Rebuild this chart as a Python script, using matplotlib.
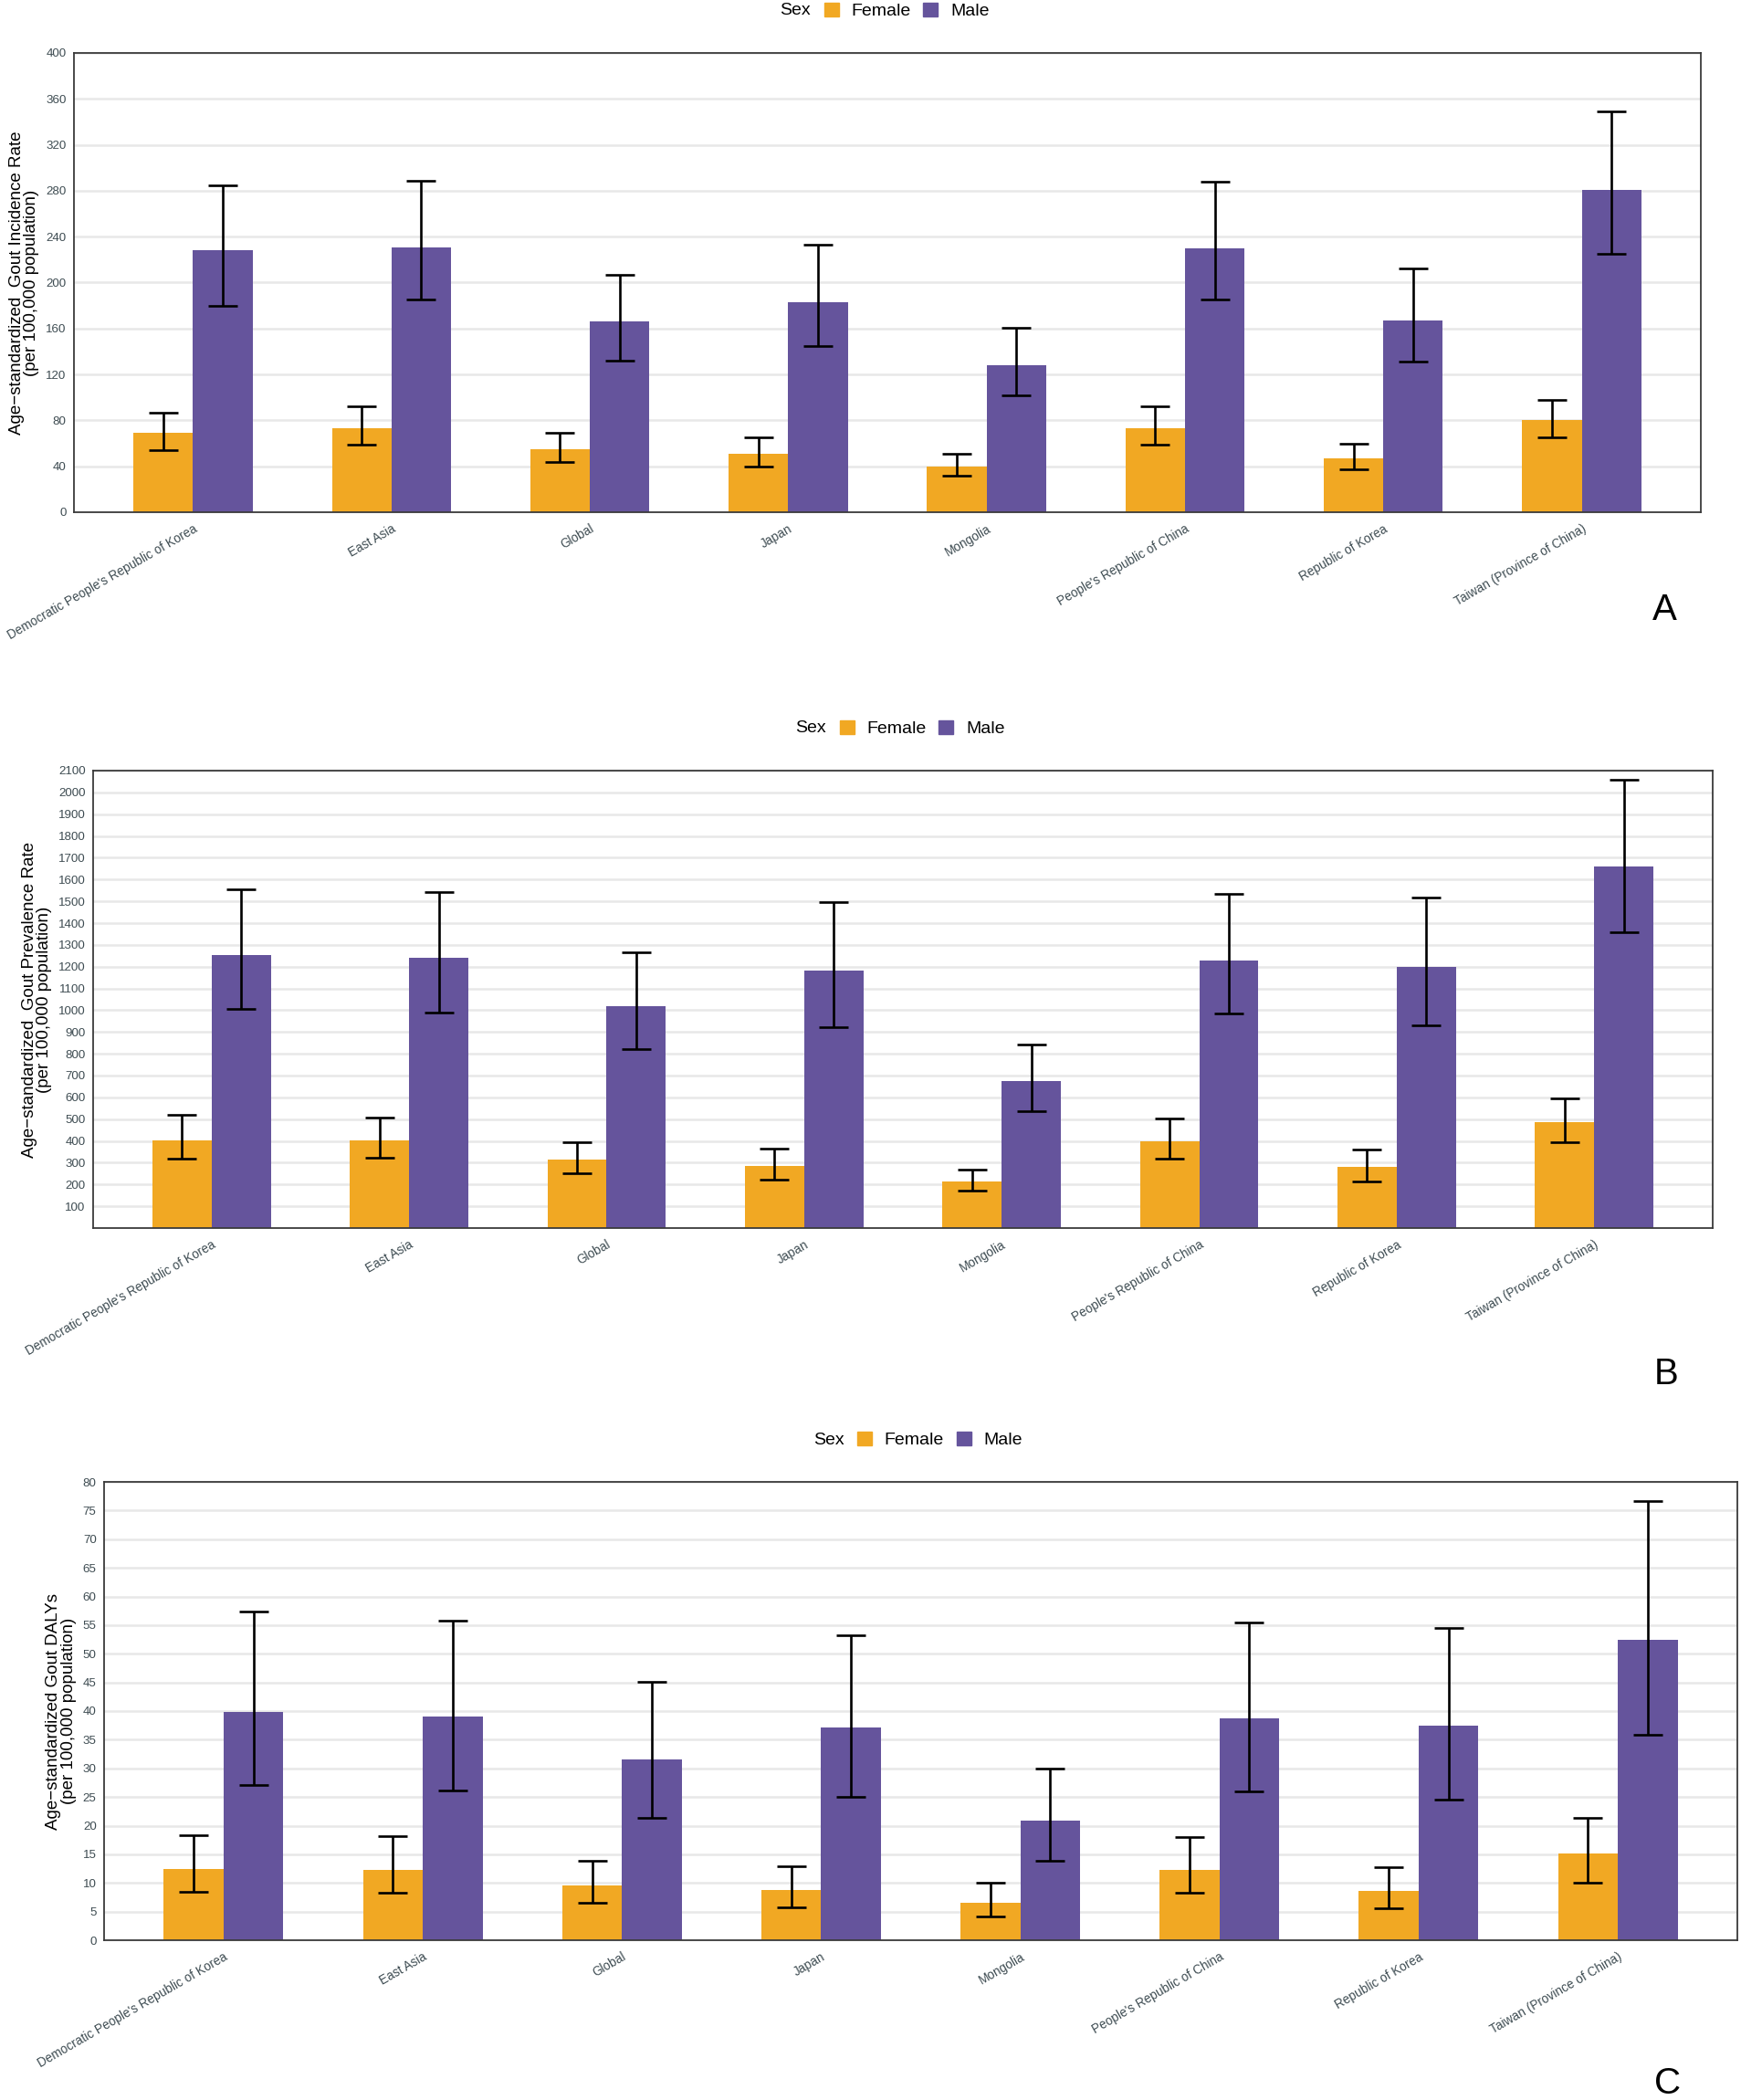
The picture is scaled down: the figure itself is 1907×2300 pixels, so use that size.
import matplotlib
matplotlib.use('Agg')
import matplotlib.pyplot as plt
import numpy as np
from matplotlib.patches import Patch

plt.rcParams['font.family'] = ['Liberation Sans', 'DejaVu Sans']

# categories shared by all three panels
locations = ["Democratic People's Republic of Korea", 'East Asia', 'Global', 'Japan',
             'Mongolia', "People's Republic of China", 'Republic of Korea',
             'Taiwan (Province of China)']

# A: incidence
inc_female = [69, 73, 55, 51, 40, 73, 47, 80]
inc_female_lo = [54, 59, 44, 40, 32, 59, 37, 65]
inc_female_hi = [87, 92, 69, 65, 51, 92, 60, 98]
inc_male = [228, 231, 166, 183, 128, 230, 167, 281]
inc_male_lo = [180, 185, 132, 145, 102, 185, 131, 225]
inc_male_hi = [285, 289, 207, 233, 161, 288, 212, 349]

# B: prevalence
prev_female = [402, 401, 313, 283, 212, 399, 282, 485]
prev_female_lo = [320, 323, 252, 224, 171, 320, 215, 396]
prev_female_hi = [518, 507, 392, 363, 268, 505, 361, 594]
prev_male = [1255, 1240, 1020, 1182, 676, 1230, 1197, 1661]
prev_male_lo = [1005, 990, 820, 924, 536, 983, 929, 1358]
prev_male_hi = [1556, 1541, 1265, 1498, 844, 1533, 1517, 2058]

# C: DALYs
daly_female = [12.5, 12.3, 9.5, 8.7, 6.5, 12.3, 8.6, 15.1]
daly_female_lo = [8.4, 8.3, 6.5, 5.8, 4.2, 8.3, 5.5, 10.1]
daly_female_hi = [18.4, 18.1, 13.9, 12.9, 10.1, 18.0, 12.8, 21.4]
daly_male = [39.9, 39.0, 31.6, 37.2, 20.8, 38.8, 37.4, 52.5]
daly_male_lo = [27.1, 26.1, 21.4, 25.0, 13.8, 26.0, 24.5, 35.8]
daly_male_hi = [57.3, 55.8, 45.1, 53.3, 29.9, 55.5, 54.5, 76.6]

FEMALE = '#F1A823'
MALE = '#65549C'
TICK_COLOR = '#3E4C52'
W, H = 1908, 2300


def px_box(left, right, top, bottom):
    return [left / W, 1 - bottom / H, (right - left) / W, (bottom - top) / H]


def draw_panel(ax, f, f_lo, f_hi, m, m_lo, m_hi, ymax, yticks, ylabel, letter, letter_xy):
    x = np.arange(len(locations))
    bw = 0.3
    f, m = np.array(f), np.array(m)
    ax.bar(x - bw / 2, f, bw, color=FEMALE, zorder=2)
    ax.bar(x + bw / 2, m, bw, color=MALE, zorder=2)
    ax.errorbar(x - bw / 2, f, yerr=[f - np.array(f_lo), np.array(f_hi) - f],
                fmt='none', ecolor='black', elinewidth=1.9, capsize=11.5, capthick=1.9, zorder=3)
    ax.errorbar(x + bw / 2, m, yerr=[m - np.array(m_lo), np.array(m_hi) - m],
                fmt='none', ecolor='black', elinewidth=1.9, capsize=11.5, capthick=1.9, zorder=3)

    ax.set_xlim(-0.6, len(locations) - 0.4)
    ax.set_ylim(0, ymax)
    ax.set_yticks(yticks)
    ax.set_xticks(x)
    ax.set_xticklabels(locations, rotation=30, ha='right', va='top', rotation_mode='anchor',
                       fontsize=9.8, color=TICK_COLOR)
    ax.tick_params(axis='y', labelsize=9.6, labelcolor=TICK_COLOR, length=0, pad=6)
    ax.tick_params(axis='x', length=0, pad=8)
    ax.yaxis.grid(True, color='#E8E8E8', linewidth=1.8, zorder=0)
    ax.set_axisbelow(True)
    for s in ax.spines.values():
        s.set_color('#3A3A3A')
        s.set_linewidth(1.3)
    ax.set_ylabel(ylabel, fontsize=13.5, labelpad=5, linespacing=0.95)

    # legend over the panel
    pos = ax.get_position()
    cx = (pos.x0 + pos.x1) / 2
    ly = pos.y1 + 46 / H
    fig.text(cx - 84 / W, ly, 'Sex', ha='right', va='center', fontsize=14)
    handles = [Patch(color=FEMALE, label='Female'), Patch(color=MALE, label='Male')]
    fig.legend(handles=handles, loc='center', bbox_to_anchor=(cx + 21 / W, ly), ncol=2,
               frameon=False, fontsize=14, handlelength=0.83, handleheight=0.83,
               handletextpad=0.7, columnspacing=0.7, borderpad=0)
    fig.text(letter_xy[0] / W, 1 - letter_xy[1] / H, letter, ha='center', va='center', fontsize=29)


fig = plt.figure(figsize=(W / 100, H / 100), dpi=100)

ax_a = fig.add_axes(px_box(81, 1863, 58, 561))
draw_panel(ax_a, inc_female, inc_female_lo, inc_female_hi, inc_male, inc_male_lo, inc_male_hi,
           400, np.arange(0, 401, 40),
           'Age\u2212standardized  Gout Incidence Rate\n(per 100,000 population)', 'A', (1823, 668))

ax_b = fig.add_axes(px_box(102, 1876, 844, 1345))
draw_panel(ax_b, prev_female, prev_female_lo, prev_female_hi, prev_male, prev_male_lo, prev_male_hi,
           2100, np.arange(100, 2101, 100),
           'Age\u2212standardized  Gout Prevalence Rate\n(per 100,000 population)', 'B', (1825, 1505))

ax_c = fig.add_axes(px_box(114, 1903, 1623, 2125))
draw_panel(ax_c, daly_female, daly_female_lo, daly_female_hi, daly_male, daly_male_lo, daly_male_hi,
           80, np.arange(0, 81, 5),
           'Age\u2212standardized Gout DALYs\n(per 100,000 population)', 'C', (1827, 2282))

fig.savefig('out.png', dpi=100, facecolor='white')
